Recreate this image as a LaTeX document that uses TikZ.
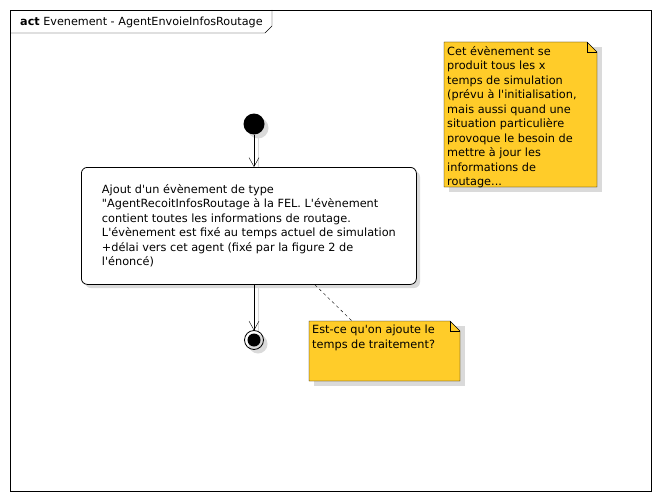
\documentclass[tikz,border=0pt]{standalone}
\usepackage{fontspec}
\newfontfamily\dialogfont{DejaVu Sans}
\usetikzlibrary{arrows.meta}

\definecolor{notefill}{RGB}{255,204,41}
\definecolor{shadowgray}{RGB}{218,218,218}

\tikzset{
  txt/.style={font=\dialogfont\fontsize{11.3}{14.5}\selectfont, inner sep=0pt, align=left},
  titletxt/.style={font=\dialogfont\fontsize{11.2}{14.5}\selectfont, inner sep=0pt},
  flow/.style={-{Straight Barb[length=9pt,width=10pt]}, thin},
  shadowline/.style={shadowgray, thin},
}

\begin{document}
\begin{tikzpicture}[x=1pt, y=-1pt]
	\useasboundingbox (0,0) rectangle (660,500);

	% frame and title tab
	\draw [thin] (10,10) rectangle (651,491);
	\draw [thin] (10,33) -- (265,33) -- (272,26) -- (272,10);
	\node [titletxt, anchor=base west] (title) at (20,26) {\textbf{act} Evenement - AgentEnvoieInfosRoutage};

	% shadows
	\fill [shadowgray] (258,128) circle (10.5);
	\fill [shadowgray, rounded corners=6] (85,171) rectangle (420,288);
	\fill [shadowgray] (258,344) circle (9.5);
	\fill [shadowgray] (449,47) rectangle (602,192);
	\fill [shadowgray] (314,326) rectangle (465,386);

	% start, action, end
	\fill (254,124) circle (10.5);
	\coordinate (start) at (254,134.5);
	\node [txt, draw, thick, fill=white, rounded corners=6, minimum width=335, minimum height=117, anchor=north west] (act) at (81,167)
	{Ajout d'un évènement de type\\
	 "AgentRecoitInfosRoutage à la FEL. L'évènement\\
	 contient toutes les informations de routage.\\
	 L'évènement est fixé au temps actuel de simulation\\
	 +délai vers cet agent (fixé par la figure 2 de\\
	 l'énoncé)};
	\draw [thick] (254,340) circle (9.5);
	\fill (254,340) circle (6.5);
	\coordinate (stop) at (254,330.5);

	\draw [shadowline] ([xshift=4]start) -- ([xshift=4]act.north -| start);
	\draw [shadowline] ([xshift=4]act.south -| stop) -- ([xshift=4]stop);
	\draw [flow] (start) -- (act.north -| start);
	\draw [flow] (act.south -| stop) -- (stop);

	% note 1
	\coordinate (n1) at (444,42);
	\draw [thin, fill=notefill] (n1) -- ++(143,0) -- ++(10,10) -- ++(0,135) -- ++(-153,0) -- cycle;
	\draw [thin] ([shift={(143,0)}]n1) -- ++(0,10) -- ++(10,0);
	\node [txt, anchor=north west] (n1txt) at ([shift={(3,4)}]n1)
	{Cet évènement se\\
	 produit tous les x\\
	 temps de simulation\\
	 (prévu à l'initialisation,\\
	 mais aussi quand une\\
	 situation particulière\\
	 provoque le besoin de\\
	 mettre à jour les\\
	 informations de\\
	 routage...};

	% note 2
	\coordinate (n2) at (309,321);
	\draw [thin, fill=notefill] (n2) -- ++(141,0) -- ++(10,10) -- ++(0,50) -- ++(-151,0) -- cycle;
	\draw [thin] ([shift={(141,0)}]n2) -- ++(0,10) -- ++(10,0);
	\node [txt, anchor=north west] (n2txt) at ([shift={(3,4)}]n2)
	{Est-ce qu'on ajoute le\\
	 temps de traitement?};
	\coordinate (n2top) at (352,321);
	\draw [dashed, thin] ([xshift=66]act.south) -- (n2top);

\end{tikzpicture}
\end{document}
